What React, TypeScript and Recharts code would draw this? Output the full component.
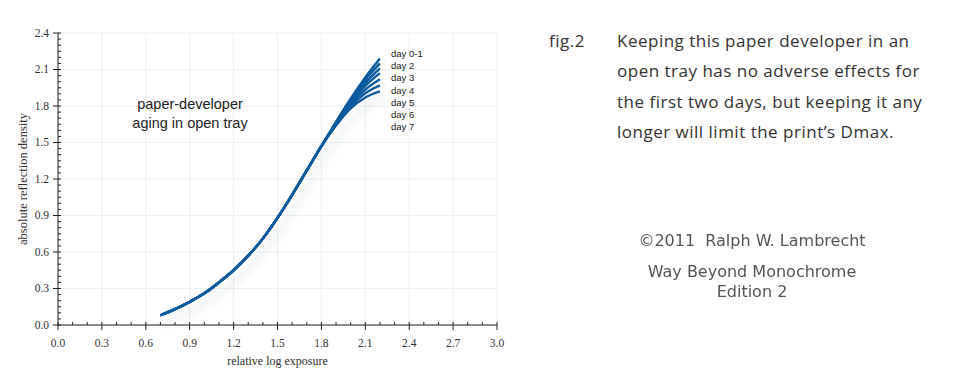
import { LineChart, Line, XAxis, YAxis, CartesianGrid } from "recharts";

// relative log exposure sample points
const exposure = [0.7, 0.8, 0.9, 1.0, 1.1, 1.2, 1.3, 1.4, 1.5, 1.6, 1.7, 1.8, 1.9, 2.0, 2.1, 2.2];

// shared toe + straight-line part (0.7 .. 1.8)
const baseCurve = [0.08, 0.13, 0.19, 0.26, 0.35, 0.45, 0.57, 0.71, 0.88, 1.07, 1.27, 1.47];

// shoulder, per day (1.9 .. 2.2)
const day01 = [1.67, 1.86, 2.035, 2.19];
const day2 = [1.665, 1.85, 2.015, 2.15];
const day3 = [1.66, 1.84, 1.99, 2.11];
const day4 = [1.655, 1.825, 1.965, 2.07];
const day5 = [1.65, 1.81, 1.935, 2.02];
const day6 = [1.645, 1.795, 1.905, 1.97];
const day7 = [1.64, 1.78, 1.87, 1.92];

const seriesKeys = ["d01", "d2", "d3", "d4", "d5", "d6", "d7"];
const seriesTails = [day01, day2, day3, day4, day5, day6, day7];
const dayLabels = ["day 0-1", "day 2", "day 3", "day 4", "day 5", "day 6", "day 7"];

const xMajorTicks = [0, 0.3, 0.6, 0.9, 1.2, 1.5, 1.8, 2.1, 2.4, 2.7, 3.0];
const yMajorTicks = [0, 0.3, 0.6, 0.9, 1.2, 1.5, 1.8, 2.1, 2.4];
const xAllTicks = Array.from({ length: 31 }, (_, i) => +(i * 0.1).toFixed(2));
const yAllTicks = Array.from({ length: 49 }, (_, i) => +(i * 0.05).toFixed(2));

const caption = [
  "Keeping this paper developer in an",
  "open tray has no adverse effects for",
  "the first two days, but keeping it any",
  "longer will limit the print\u2019s Dmax.",
];

const data = exposure.map((x, i) => {
  const row: Record<string, number> = { x };
  seriesKeys.forEach((k, s) => {
    row[k] = i < baseCurve.length ? baseCurve[i] : seriesTails[s][i - baseCurve.length];
  });
  return row;
});

const BLUE = "#0b5a9e";
const TICK_FONT = "'Liberation Serif', serif";

const isMajor = (v: number, majors: number[]) => majors.some((m) => Math.abs(m - v) < 1e-6);
const fmt = (v: number) => v.toFixed(1);

function XTick(props: any) {
  const { x, y, payload } = props;
  const major = isMajor(payload.value, xMajorTicks);
  return (
    <g>
      <line x1={x} x2={x} y1={y} y2={y - 3} stroke="#222" strokeWidth={1} />
      {major && <line x1={x} x2={x} y1={y} y2={y + 5} stroke="#222" strokeWidth={1} />}
      {major && (
        <text x={x} y={y + 22} textAnchor="middle" fontSize={11.5} fill="#333" fontFamily={TICK_FONT}>
          {fmt(payload.value)}
        </text>
      )}
    </g>
  );
}

function YTick(props: any) {
  const { x, y, payload } = props;
  const major = isMajor(payload.value, yMajorTicks);
  return (
    <g>
      <line x1={x} x2={x + 3} y1={y} y2={y} stroke="#222" strokeWidth={1} />
      {major && <line x1={x - 5} x2={x} y1={y} y2={y} stroke="#222" strokeWidth={1} />}
      {major && (
        <text x={x - 9} y={y + 3.5} textAnchor="end" fontSize={11.5} fill="#333" fontFamily={TICK_FONT}>
          {fmt(payload.value)}
        </text>
      )}
    </g>
  );
}

export default function App() {
  return (
    <div style={{ position: "absolute", left: 0, top: 0, width: 963, height: 381, background: "#fff" }}>
      <LineChart width={520} height={381} data={data} margin={{ top: 33, right: 23, bottom: 0, left: 0 }}>
        <defs>
          <filter id="shade" x="-20%" y="-20%" width="140%" height="140%">
            <feDropShadow dx={6} dy={7} stdDeviation={4} floodColor="#8a9aa6" floodOpacity={0.35} />
          </filter>
        </defs>
        <CartesianGrid
          stroke="#e9eff2"
          horizontalValues={yMajorTicks}
          verticalValues={xMajorTicks}
        />
        <XAxis
          type="number"
          dataKey="x"
          domain={[0, 3]}
          ticks={xAllTicks}
          interval={0}
          height={56}
          tickSize={0}
          tickMargin={0}
          tickLine={false}
          tick={<XTick />}
          axisLine={{ stroke: "#222" }}
          label={{
            value: "relative log exposure",
            position: "insideBottom",
            offset: 16,
            style: { fontFamily: TICK_FONT, fontSize: 12, fill: "#333" },
          }}
        />
        <YAxis
          type="number"
          domain={[0, 2.4]}
          ticks={yAllTicks}
          interval={0}
          width={58}
          tickSize={0}
          tickMargin={0}
          tickLine={false}
          tick={<YTick />}
          axisLine={{ stroke: "#222" }}
          label={{
            value: "absolute reflection density",
            angle: -90,
            position: "insideLeft",
            offset: 23,
            style: { fontFamily: TICK_FONT, fontSize: 12.5, fill: "#333", textAnchor: "middle" },
          }}
        />
        {seriesKeys.map((k, i) => (
          <Line
            key={k}
            dataKey={k}
            type="monotone"
            stroke={BLUE}
            strokeWidth={2.4}
            dot={false}
            isAnimationActive={false}
            filter={i === seriesKeys.length - 1 ? "url(#shade)" : undefined}
          />
        ))}
      </LineChart>

      <div
        style={{
          position: "absolute",
          left: 90,
          top: 95,
          width: 200,
          textAlign: "center",
          fontFamily: "'Liberation Sans', Arial, sans-serif",
          fontSize: 14.5,
          lineHeight: "19px",
          color: "#222",
        }}
      >
        paper-developer
        <br />
        aging in open tray
      </div>

      <div
        style={{
          position: "absolute",
          left: 391,
          top: 48,
          fontFamily: "'Liberation Sans', Arial, sans-serif",
          fontSize: 9.5,
          lineHeight: "12.2px",
          color: "#222",
        }}
      >
        {dayLabels.map((d) => (
          <div key={d}>{d}</div>
        ))}
      </div>

      <div
        style={{
          position: "absolute",
          left: 549,
          top: 26,
          fontFamily: "'Open Sans', sans-serif",
          fontSize: 17,
          letterSpacing: 0.5,
          lineHeight: "30.3px",
          color: "#333",
        }}
      >
        <div style={{ position: "absolute", left: 0, top: 0 }}>fig.2</div>
        <div style={{ position: "absolute", left: 68, top: 0, whiteSpace: "nowrap" }}>
          {caption.map((c) => (
            <div key={c}>{c}</div>
          ))}
        </div>
      </div>

      <div
        style={{
          position: "absolute",
          left: 620,
          top: 230,
          width: 264,
          textAlign: "center",
          fontFamily: "'DejaVu Sans', sans-serif",
          fontSize: 16,
          color: "#555",
          filter: "blur(0.3px)",
        }}
      >
        <div style={{ lineHeight: "22px" }}>©2011&nbsp;&nbsp;Ralph W. Lambrecht</div>
        <div style={{ lineHeight: "20px", marginTop: 10 }}>Way Beyond Monochrome</div>
        <div style={{ lineHeight: "20px" }}>Edition 2</div>
      </div>
    </div>
  );
}
